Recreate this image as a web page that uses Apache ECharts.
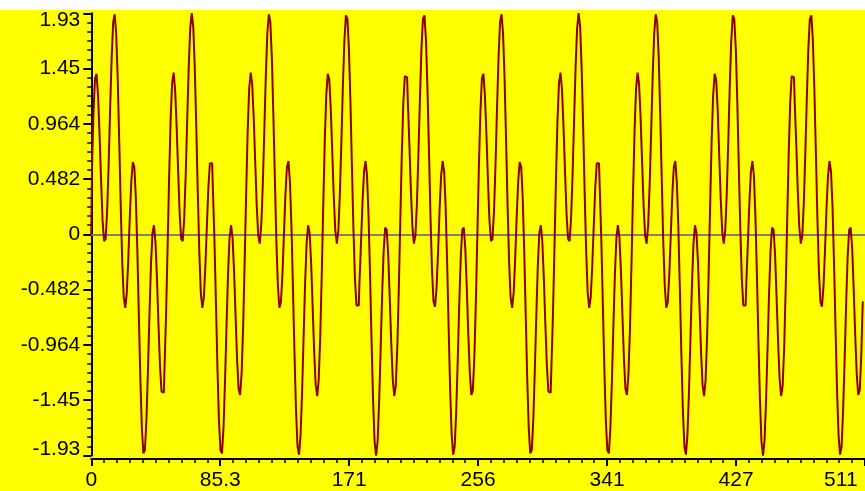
<!DOCTYPE html>
<html><head><meta charset="utf-8">
<script src="https://cdn.jsdelivr.net/npm/echarts@6/dist/echarts.min.js"></script>
<style>
html,body{margin:0;padding:0;background:#fff;}
#c{position:absolute;left:0;top:0;width:865px;height:491px;background:linear-gradient(#ffffff 0px,#ffffff 10px,#ffff00 10px,#ffff00 100%);}
</style></head><body><div id="c"></div>
<script>
// samples 0..127
const signalQ1 = [
0,0.59,1.07,1.36,1.40,1.21,0.87,0.47,0.12,-0.06,
-0.04,0.20,0.61,1.10,1.54,1.85,1.92,1.75,1.36,0.82,
0.25,-0.24,-0.55,-0.64,-0.51,-0.22,0.15,0.46,0.63,0.59,
0.32,-0.14,-0.71,-1.26,-1.69,-1.91,-1.88,-1.62,-1.19,-0.71,
-0.27,0.01,0.08,-0.07,-0.39,-0.79,-1.15,-1.37,-1.38,-1.15,
-0.70,-0.12,0.48,0.99,1.32,1.41,1.26,0.94,0.55,0.18,
-0.04,-0.06,0.14,0.52,1.00,1.46,1.80,1.93,1.81,1.45,
0.94,0.36,-0.15,-0.51,-0.64,-0.55,-0.28,0.07,0.41,0.62,
0.62,0.39,-0.04,-0.59,-1.16,-1.62,-1.88,-1.91,-1.69,-1.29,
-0.80,-0.35,-0.03,0.08,-0.03,-0.32,-0.71,-1.09,-1.35,-1.40,
-1.21,-0.81,-0.24,0.36,0.90,1.27,1.41,1.31,1.02,0.63,
0.25,-0.01,-0.08,0.08,0.43,0.90,1.38,1.75,1.92,1.85,
1.54,1.05,0.48,-0.06,-0.45,-0.64,-0.59,-0.35];
// samples 128..255
const signalQ2 = [
0,0.35,0.59,0.64,0.45,0.06,-0.48,-1.05,-1.54,-1.85,
-1.92,-1.75,-1.38,-0.90,-0.43,-0.08,0.08,0.01,-0.25,-0.63,
-1.02,-1.31,-1.41,-1.27,-0.90,-0.36,0.24,0.81,1.21,1.40,
1.35,1.09,0.71,0.32,0.03,-0.08,0.03,0.35,0.80,1.29,
1.69,1.91,1.88,1.62,1.16,0.59,0.04,-0.39,-0.62,-0.62,
-0.41,-0.07,0.28,0.55,0.64,0.51,0.15,-0.36,-0.94,-1.45,
-1.81,-1.93,-1.80,-1.46,-1.00,-0.52,-0.14,0.06,0.04,-0.18,
-0.55,-0.94,-1.26,-1.41,-1.32,-0.99,-0.48,0.12,0.70,1.15,
1.38,1.37,1.15,0.79,0.39,0.07,-0.08,-0.01,0.27,0.71,
1.19,1.62,1.88,1.91,1.69,1.26,0.71,0.14,-0.32,-0.59,
-0.63,-0.46,-0.15,0.22,0.51,0.64,0.55,0.24,-0.25,-0.82,
-1.36,-1.75,-1.92,-1.85,-1.54,-1.10,-0.61,-0.20,0.04,0.06,
-0.12,-0.47,-0.87,-1.21,-1.40,-1.36,-1.07,-0.59];
// samples 256..383
const signalQ3 = [
0,0.59,1.07,1.36,1.40,1.21,0.87,0.47,0.12,-0.06,
-0.04,0.20,0.61,1.10,1.54,1.85,1.92,1.75,1.36,0.82,
0.25,-0.24,-0.55,-0.64,-0.51,-0.22,0.15,0.46,0.63,0.59,
0.32,-0.14,-0.71,-1.26,-1.69,-1.91,-1.88,-1.62,-1.19,-0.71,
-0.27,0.01,0.08,-0.07,-0.39,-0.79,-1.15,-1.37,-1.38,-1.15,
-0.70,-0.12,0.48,0.99,1.32,1.41,1.26,0.94,0.55,0.18,
-0.04,-0.06,0.14,0.52,1.00,1.46,1.80,1.93,1.81,1.45,
0.94,0.36,-0.15,-0.51,-0.64,-0.55,-0.28,0.07,0.41,0.62,
0.62,0.39,-0.04,-0.59,-1.16,-1.62,-1.88,-1.91,-1.69,-1.29,
-0.80,-0.35,-0.03,0.08,-0.03,-0.32,-0.71,-1.09,-1.35,-1.40,
-1.21,-0.81,-0.24,0.36,0.90,1.27,1.41,1.31,1.02,0.63,
0.25,-0.01,-0.08,0.08,0.43,0.90,1.38,1.75,1.92,1.85,
1.54,1.05,0.48,-0.06,-0.45,-0.64,-0.59,-0.35];
// samples 384..511
const signalQ4 = [
0,0.35,0.59,0.64,0.45,0.06,-0.48,-1.05,-1.54,-1.85,
-1.92,-1.75,-1.38,-0.90,-0.43,-0.08,0.08,0.01,-0.25,-0.63,
-1.02,-1.31,-1.41,-1.27,-0.90,-0.36,0.24,0.81,1.21,1.40,
1.35,1.09,0.71,0.32,0.03,-0.08,0.03,0.35,0.80,1.29,
1.69,1.91,1.88,1.62,1.16,0.59,0.04,-0.39,-0.62,-0.62,
-0.41,-0.07,0.28,0.55,0.64,0.51,0.15,-0.36,-0.94,-1.45,
-1.81,-1.93,-1.80,-1.46,-1.00,-0.52,-0.14,0.06,0.04,-0.18,
-0.55,-0.94,-1.26,-1.41,-1.32,-0.99,-0.48,0.12,0.70,1.15,
1.38,1.37,1.15,0.79,0.39,0.07,-0.08,-0.01,0.27,0.71,
1.19,1.62,1.88,1.91,1.69,1.26,0.71,0.14,-0.32,-0.59,
-0.63,-0.46,-0.15,0.22,0.51,0.64,0.55,0.24,-0.25,-0.82,
-1.36,-1.75,-1.92,-1.85,-1.54,-1.10,-0.61,-0.20,0.04,0.06,
-0.12,-0.47,-0.87,-1.21,-1.40,-1.36,-1.07,-0.59];

const xTickValues = [0, 85.3333, 170.6667, 256, 341.3333, 426.6667, 496];
const xTickLabels = ['0', '85.3', '171', '256', '341', '427', '511'];
const yTickValues = [-1.928, -1.446, -0.964, -0.482, 0, 0.482, 0.964, 1.446, 1.928];
const yTickLabels = ['-1.93', '-1.45', '-0.964', '-0.482', '0', '0.482', '0.964', '1.45', '1.93'];

function nearestIndex(vals, v) {
  let best = 0, d = Infinity;
  for (let i = 0; i < vals.length; i++) {
    const dd = Math.abs(vals[i] - v);
    if (dd < d) { d = dd; best = i; }
  }
  return best;
}

const signal = signalQ1.concat(signalQ2, signalQ3, signalQ4);
const seriesData = signal.map((v, i) => [i, v]);

const FONT = 'Liberation Sans, Arial, sans-serif';
const labelFont = { color: '#000', fontSize: 21, fontFamily: FONT };

const chart = echarts.init(document.getElementById('c'), null, { renderer: 'canvas' });
chart.setOption({
  backgroundColor: 'transparent',
  animation: false,
  grid: { left: 91.25, right: -8.75, top: 13.3, bottom: 34.3, containLabel: false },
  xAxis: {
    type: 'value', min: 0, max: 512, interval: 512 / 6,
    offset: 3.5,
    axisLine: { show: true, onZero: false, lineStyle: { color: '#000', width: 2 } },
    axisTick: { show: true, length: 7, lineStyle: { color: '#000', width: 2 } },
    minorTick: { show: true, splitNumber: 10, length: 4, lineStyle: { color: '#000', width: 1.5 } },
    splitLine: { show: false }, minorSplitLine: { show: false },
    axisLabel: Object.assign({
      margin: 11,
      customValues: xTickValues,
      formatter: (v) => xTickLabels[nearestIndex(xTickValues, v)]
    }, labelFont)
  },
  yAxis: {
    type: 'value', min: -1.928, max: 1.928, interval: 0.482,
    axisLine: { show: true, onZero: false, lineStyle: { color: '#000', width: 2 } },
    axisTick: { show: true, length: 8, lineStyle: { color: '#000', width: 2 } },
    minorTick: { show: true, splitNumber: 6, length: 4, lineStyle: { color: '#000', width: 1.5 } },
    splitLine: { show: false }, minorSplitLine: { show: false },
    axisLabel: Object.assign({
      margin: 11,
      customValues: yTickValues,
      formatter: (v) => {
        const i = nearestIndex(yTickValues, v);
        if (i === yTickValues.length - 1) return '{top|' + yTickLabels[i] + '}';
        if (i === 0) return '{bot|' + yTickLabels[i] + '}';
        return yTickLabels[i];
      },
      rich: {
        top: { color: '#000', fontSize: 21, fontFamily: FONT, padding: [14, 0, 0, 0] },
        bot: { color: '#000', fontSize: 21, fontFamily: FONT, padding: [0, 0, 12, 0] }
      }
    }, labelFont)
  },
  series: [{
    type: 'line',
    step: 'middle',
    data: seriesData,
    symbol: 'none',
    showSymbol: false,
    clip: false,
    lineStyle: { color: '#8b0000', width: 2 },
    markLine: {
      silent: true,
      symbol: ['none', 'none'],
      label: { show: false },
      lineStyle: { color: '#808080', width: 2, type: 'solid' },
      data: [{ yAxis: 0 }],
      z: 1
    },
    z: 3
  }]
});
</script></body></html>
